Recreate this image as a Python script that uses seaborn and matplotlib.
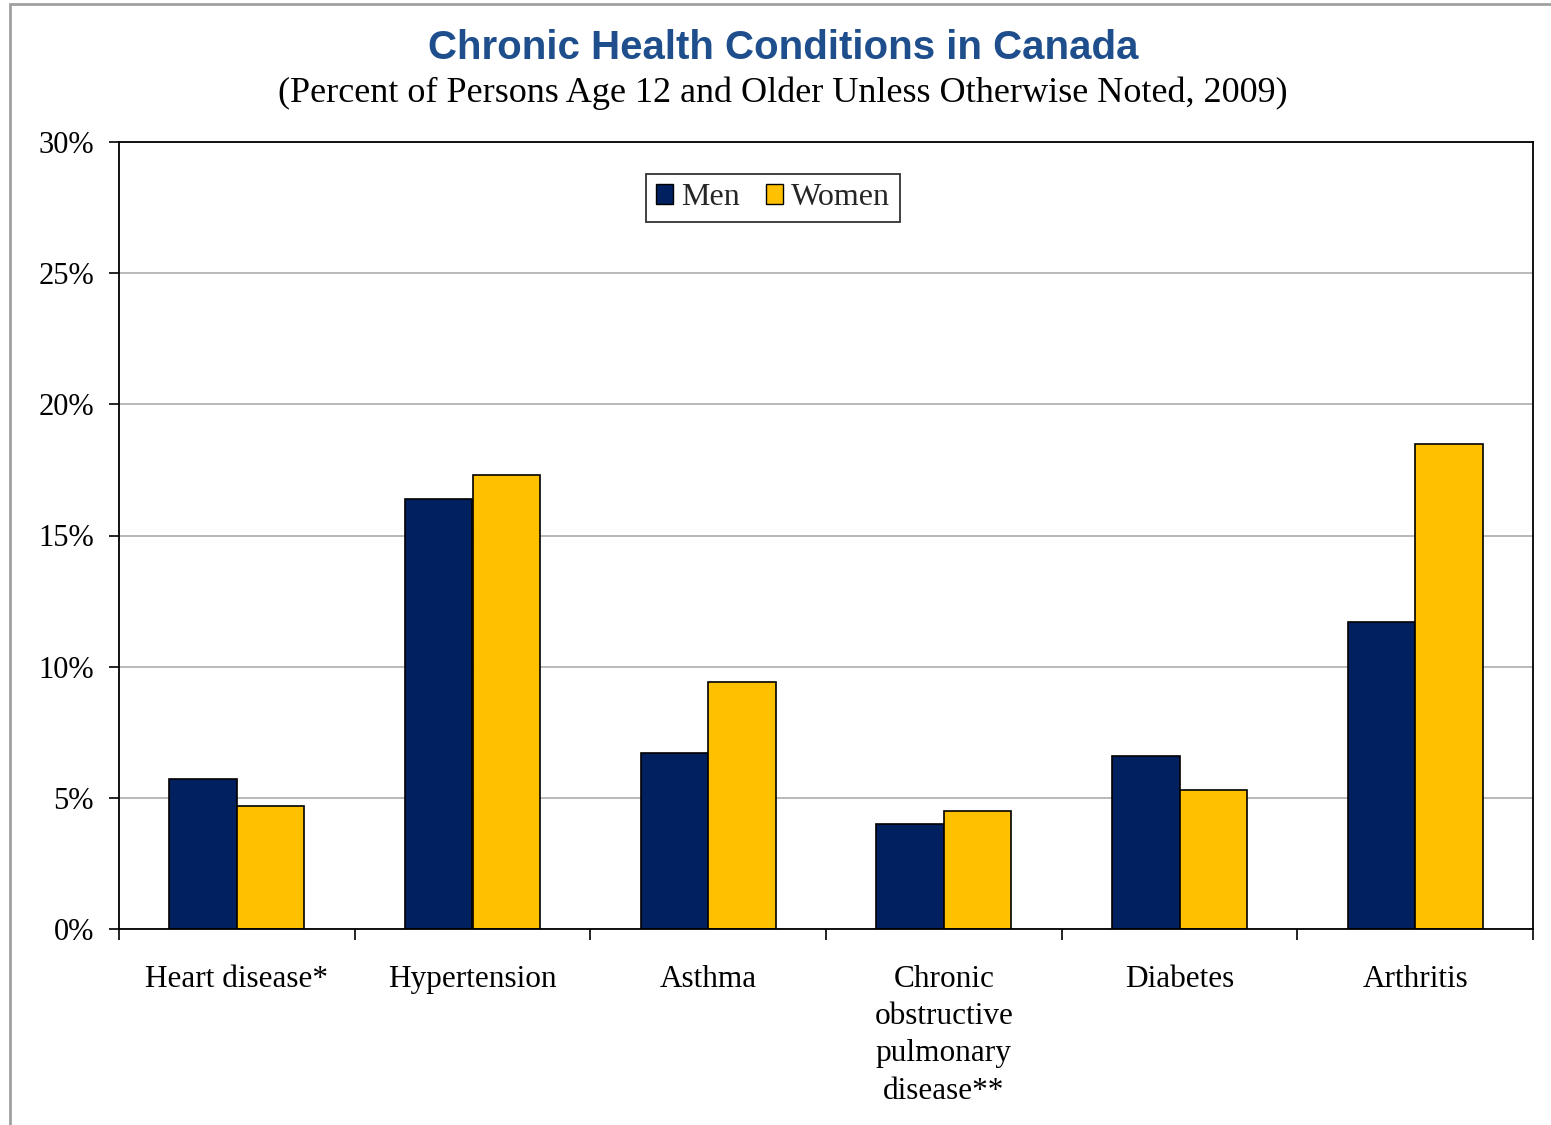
import pandas as pd
import matplotlib.pyplot as plt
import seaborn as sns
from matplotlib.patches import Patch, Rectangle
from matplotlib.ticker import FuncFormatter, MultipleLocator, FixedLocator

# Data (percent, 2009)
conditions = ["Heart disease*", "Hypertension", "Asthma",
              "Chronic\nobstructive\npulmonary\ndisease**", "Diabetes", "Arthritis"]
men = [5.7, 16.4, 6.7, 4.0, 6.6, 11.7]
women = [4.7, 17.3, 9.4, 4.5, 5.3, 18.5]

df = pd.DataFrame({
    "Condition": conditions * 2,
    "Sex": ["Men"] * len(conditions) + ["Women"] * len(conditions),
    "Percent": men + women,
})

sns.set_theme(style="white")
plt.rcParams["font.family"] = ["Liberation Serif", "DejaVu Serif"]

colors = {"Men": "#002060", "Women": "#FFC000"}

fig = plt.figure(figsize=(15.51, 11.25), dpi=100)
ax = fig.add_axes([119/1551, 1 - 929/1125, (1533-119)/1551, (929-142)/1125])

sns.barplot(data=df, x="Condition", y="Percent", hue="Sex", palette=colors,
            width=0.574, saturation=1, edgecolor="black", linewidth=1.2,
            legend=False, ax=ax)

ax.set_ylim(0, 30)
ax.set_xlim(-0.5, len(conditions) - 0.5)
ax.yaxis.set_major_locator(MultipleLocator(5))
ax.yaxis.set_major_formatter(FuncFormatter(lambda v, p: f"{v:.0f}%"))
ax.grid(axis="y", color="#a6a6a6", linewidth=1.1)
ax.set_axisbelow(True)
ax.set_xlabel("")
ax.set_ylabel("")

for s in ax.spines.values():
    s.set_color("black")
    s.set_linewidth(1.3)

ax.tick_params(axis="y", which="major", left=True, length=7, width=1.2,
               color="black", labelsize=22, pad=11, labelcolor="black")
ax.tick_params(axis="x", which="major", bottom=False, labelsize=22.5, pad=20,
               labelcolor="black")
ax.xaxis.set_minor_locator(FixedLocator([i - 0.5 for i in range(len(conditions) + 1)]))
ax.tick_params(axis="x", which="minor", bottom=True, length=8, width=1.2, color="black")
for lab in ax.get_xticklabels():
    lab.set_linespacing(1.37)
    lab.set_verticalalignment("top")

handles = [Patch(facecolor=colors[k], edgecolor="black", linewidth=1, label=k)
           for k in ["Men", "Women"]]
leg = ax.legend(handles=handles, loc="center", bbox_to_anchor=(0.4625, 0.929),
                ncol=2, frameon=True, fancybox=False, fontsize=23,
                handlelength=0.55, handleheight=0.55, handletextpad=0.25,
                columnspacing=0.8, borderpad=0.3)
leg.get_frame().set_edgecolor("black")
leg.get_frame().set_linewidth(1.3)

fig.text(0.505, 1 - 48/1125, "Chronic Health Conditions in Canada", ha="center", va="center",
         fontsize=29, fontweight="bold", color="#1F4E8C", family=["Liberation Sans", "DejaVu Sans"])
fig.text(0.505, 1 - 93/1125, "(Percent of Persons Age 12 and Older Unless Otherwise Noted, 2009)",
         ha="center", va="center", fontsize=26, color="black")

fig.patches.append(Rectangle((10/1551, -0.1), 1.2, 1.1 - 4/1125, transform=fig.transFigure,
                             fill=False, edgecolor="#a0a0a0", linewidth=2))

fig.savefig("out.png", dpi=100)
